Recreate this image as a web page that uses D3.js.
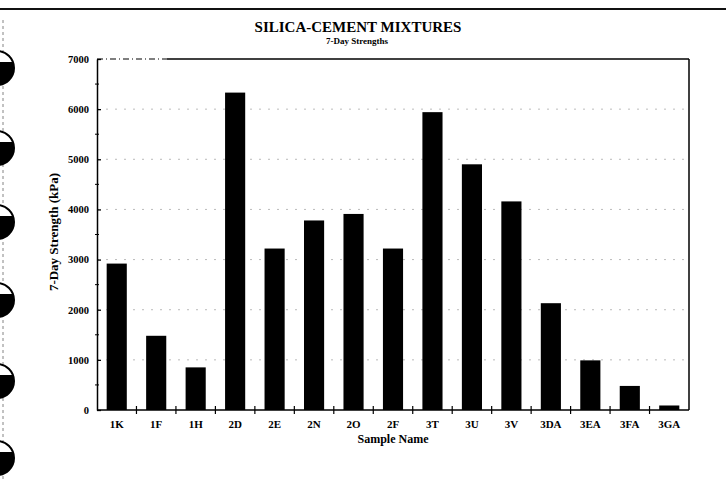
<!DOCTYPE html>
<html><head><meta charset="utf-8">
<script src="https://cdn.jsdelivr.net/npm/d3@7/dist/d3.min.js"></script>
<style>body{margin:0;background:#fff}svg{display:block}</style>
</head><body>
<script>
const categories = ["1K","1F","1H","2D","2E","2N","2O","2F","3T","3U","3V","3DA","3EA","3FA","3GA"];
const strengths = [2920,1480,850,6330,3220,3780,3910,3220,5940,4900,4160,2130,990,480,90];
const yTicks = [0,1000,2000,3000,4000,5000,6000,7000];
const title = "SILICA-CEMENT MIXTURES";
const subtitle = "7-Day Strengths";
const yLabel = "7-Day Strength (kPa)";
const xLabel = "Sample Name";

const W = 726, H = 482;
const m = {left: 97, right: 37, top: 59, bottom: 72};
const svg = d3.select("body").append("svg").attr("width", W).attr("height", H);
const font = "'Liberation Serif','DejaVu Serif',serif";

// page decoration: top rule, dashed page edge and binding holes
svg.append("line").attr("x1",0).attr("x2",W).attr("y1",9).attr("y2",9).attr("stroke","#111").attr("stroke-width",2);
svg.append("line").attr("x1",3).attr("x2",3).attr("y1",20).attr("y2",H).attr("stroke","#666").attr("stroke-width",0.8).attr("stroke-dasharray","3,3");
const holeCenters = [68, 148, 222, 300, 381, 458];
const defs = svg.append("defs");
defs.append("clipPath").attr("id","lower").append("rect").attr("x",-30).attr("y",-6).attr("width",60).attr("height",30);
const hg = svg.selectAll("g.hole").data(holeCenters).join("g").attr("class","hole")
  .attr("transform", d => `translate(-3,${d})`);
hg.append("circle").attr("r",17).attr("fill","#fff").attr("stroke","#000").attr("stroke-width",2);
hg.append("circle").attr("r",17).attr("fill","#000").attr("clip-path","url(#lower)");

const x = d3.scaleBand().domain(categories).range([m.left, W - m.right]).paddingInner(0.49).paddingOuter(0.245);
const y = d3.scaleLinear().domain([0,7000]).range([H - m.bottom, m.top]);

// faint grid
svg.append("g").selectAll("line").data(yTicks.slice(1,-1)).join("line")
  .attr("x1", m.left).attr("x2", W - m.right).attr("y1", d=>y(d)).attr("y2", d=>y(d))
  .attr("stroke","#aaa").attr("stroke-width",0.8).attr("stroke-dasharray","2,7");

// bars
svg.append("g").selectAll("rect").data(categories).join("rect")
  .attr("x", d => x(d)).attr("width", x.bandwidth())
  .attr("y", (d,i) => y(strengths[i])).attr("height", (d,i) => y(0) - y(strengths[i]))
  .attr("fill","#000");

// frame: top (dash-dot start then solid) and right
svg.append("line").attr("x1", m.left).attr("x2", m.left+70).attr("y1", y(7000)).attr("y2", y(7000))
  .attr("stroke","#000").attr("stroke-width",1.2).attr("stroke-dasharray","6,3,1,3");
svg.append("line").attr("x1", m.left+70).attr("x2", W-m.right).attr("y1", y(7000)).attr("y2", y(7000))
  .attr("stroke","#000").attr("stroke-width",1.5);
svg.append("line").attr("x1", W-m.right).attr("x2", W-m.right).attr("y1", y(7000)).attr("y2", y(0))
  .attr("stroke","#000").attr("stroke-width",1.5);

// y axis
const yAxis = svg.append("g").attr("transform", `translate(${m.left},0)`)
  .call(d3.axisLeft(y).tickValues(yTicks).tickFormat(d3.format("d")).tickSize(4).tickSizeOuter(0).tickPadding(4));
yAxis.select(".domain").attr("stroke-width",1.5);
yAxis.selectAll(".tick line").attr("x2",4).attr("stroke-width",1.3);
yAxis.selectAll(".tick text").attr("font-family",font).attr("font-size",10.5).attr("font-weight","bold");
// minor ticks
svg.append("g").selectAll("line").data(d3.range(500,7000,1000)).join("line")
  .attr("x1", m.left-2).attr("x2", m.left+2).attr("y1", d=>y(d)).attr("y2", d=>y(d)).attr("stroke","#000");

// x axis
const xg = svg.append("g").attr("transform", `translate(0,${y(0)})`);
xg.append("line").attr("x1", m.left).attr("x2", W-m.right).attr("stroke","#000").attr("stroke-width",1.5);
const step = x.step();
xg.selectAll("line.xt").data(categories.slice(0,-1)).join("line").attr("class","xt")
  .attr("x1", d => x(d) + x.bandwidth() + (step - x.bandwidth())/2).attr("x2", d => x(d) + x.bandwidth() + (step - x.bandwidth())/2)
  .attr("y1",-4).attr("y2",4).attr("stroke","#000").attr("stroke-width",1.2);
xg.selectAll("text").data(categories).join("text")
  .attr("x", d => x(d) + x.bandwidth()/2).attr("y", 18).attr("text-anchor","middle")
  .attr("font-family",font).attr("font-size",11).attr("font-weight","bold").text(d=>d);

// titles
svg.append("text").attr("x",358).attr("y",32).attr("text-anchor","middle").attr("font-family",font)
  .attr("font-size",15).attr("font-weight",600).text(title);
svg.append("text").attr("x",357).attr("y",44).attr("text-anchor","middle").attr("font-family",font)
  .attr("font-size",9).attr("font-weight","bold").text(subtitle);
svg.append("text").attr("x",393).attr("y",443).attr("text-anchor","middle").attr("font-family",font)
  .attr("font-size",12).attr("font-weight","bold").text(xLabel);
svg.append("text").attr("transform","translate(58,232) rotate(-90)").attr("text-anchor","middle").attr("font-family",font)
  .attr("font-size",13).attr("font-weight","bold").text(yLabel);
</script>
</body></html>
